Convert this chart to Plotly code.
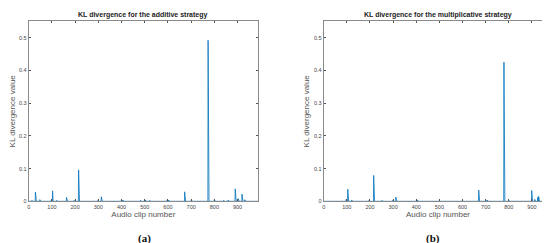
import plotly.graph_objects as go

N_CLIPS = 988

# Additive strategy: notable clip numbers and KL divergence values (all others ~0)
add_clips = [5, 14, 29, 48, 62, 97, 103, 121, 163, 196, 215, 252, 299, 313, 352, 400, 406,
             470, 482, 492, 503, 522, 560, 596, 603, 672, 701, 773, 800, 820, 840, 860,
             890, 903, 919, 931, 960]
add_vals = [0.002, 0.003, 0.028, 0.005, 0.002, 0.003, 0.032, 0.003, 0.012, 0.003, 0.096,
            0.002, 0.004, 0.014, 0.002, 0.005, 0.004, 0.002, 0.003, 0.002, 0.004, 0.003,
            0.002, 0.004, 0.004, 0.029, 0.004, 0.492, 0.005, 0.002, 0.003, 0.004,
            0.038, 0.008, 0.022, 0.005, 0.002]

# Multiplicative strategy
mul_clips = [8, 50, 97, 104, 121, 196, 216, 252, 299, 312, 405, 470, 500, 560, 600,
             670, 706, 779, 800, 840, 899, 912, 925, 929, 960]
mul_vals = [0.002, 0.002, 0.005, 0.037, 0.004, 0.003, 0.079, 0.003, 0.004, 0.013, 0.004,
            0.002, 0.003, 0.002, 0.003, 0.034, 0.004, 0.425, 0.003, 0.002, 0.033, 0.006,
            0.012, 0.015, 0.002]

x_ticks = [0, 100, 200, 300, 400, 500, 600, 700, 800, 900]
y_ticks = [0, 0.1, 0.2, 0.3, 0.4, 0.5]
y_tick_labels = ["0", "0.1", "0.2", "0.3", "0.4", "0.5"]
titles = ["KL divergence for the additive strategy", "KL divergence for the multiplicative strategy"]
captions = ["(a)", "(b)"]


def build_series(clips, vals):
    y = [0.0] * N_CLIPS
    for c, v in zip(clips, vals):
        y[c - 1] = v
    return list(range(1, N_CLIPS + 1)), y


W, H = 550, 243
fig = go.Figure()
LINE = "#0072BD"
for i, (clips, vals) in enumerate([(add_clips, add_vals), (mul_clips, mul_vals)]):
    x, y = build_series(clips, vals)
    fig.add_trace(go.Scatter(x=x, y=y, mode="lines", line=dict(color=LINE, width=0.8),
                             xaxis="x" if i == 0 else "x2", yaxis="y" if i == 0 else "y2",
                             showlegend=False, hoverinfo="skip"))

FONT = "Arial, Liberation Sans, sans-serif"
ax_common = dict(showgrid=False, zeroline=False, showline=True, linecolor="#8a8a8a",
                 linewidth=1, mirror="ticks", ticks="inside", ticklen=2, tickcolor="#555",
                 automargin=False,
                 tickfont=dict(family=FONT, size=5.5, color="#444"))
xdoms = [[20.7 / W, 250 / W], [315.7 / W, 544.3 / W]]
ydom = [1 - 193.3 / H, 1 - 13.3 / H]
for i in range(2):
    sx = "" if i == 0 else "2"
    fig.update_layout(**{
        "xaxis" + sx: dict(ax_common, domain=xdoms[i], range=[0, N_CLIPS], tickvals=x_ticks,
                          anchor="y" + sx, ticklabelstandoff=0,
                          title=dict(text="Audio clip number", standoff=1,
                                     font=dict(family=FONT, size=8, color="#555"))),
        "yaxis" + sx: dict(ax_common, domain=ydom, range=[0, 0.55], tickvals=y_ticks,
                          ticktext=y_tick_labels, anchor="x" + sx,
                          title=dict(text="KL divergence value", standoff=3,
                                     font=dict(family=FONT, size=8, color="#555"))),
    })
    cx = (xdoms[i][0] + xdoms[i][1]) / 2
    fig.add_annotation(text="<b>" + titles[i] + "</b>", x=cx, y=1 - 7 / H, xref="paper", yref="paper",
                       xanchor="center", yanchor="middle",
                       showarrow=False, font=dict(family=FONT, size=7, color="#222"))
    fig.add_annotation(text="<b>" + captions[i] + "</b>", x=(136 if i == 0 else 425) / W,
                       y=1 - 230 / H, xref="paper", yref="paper", showarrow=False,
                       xanchor="center", yanchor="middle",
                       font=dict(family="Liberation Serif, serif", size=11, color="#111"))

fig.update_layout(width=W, height=H, margin=dict(l=0, r=0, t=0, b=0, autoexpand=False),
                  paper_bgcolor="white", plot_bgcolor="white")
fig.write_html("out.html")
